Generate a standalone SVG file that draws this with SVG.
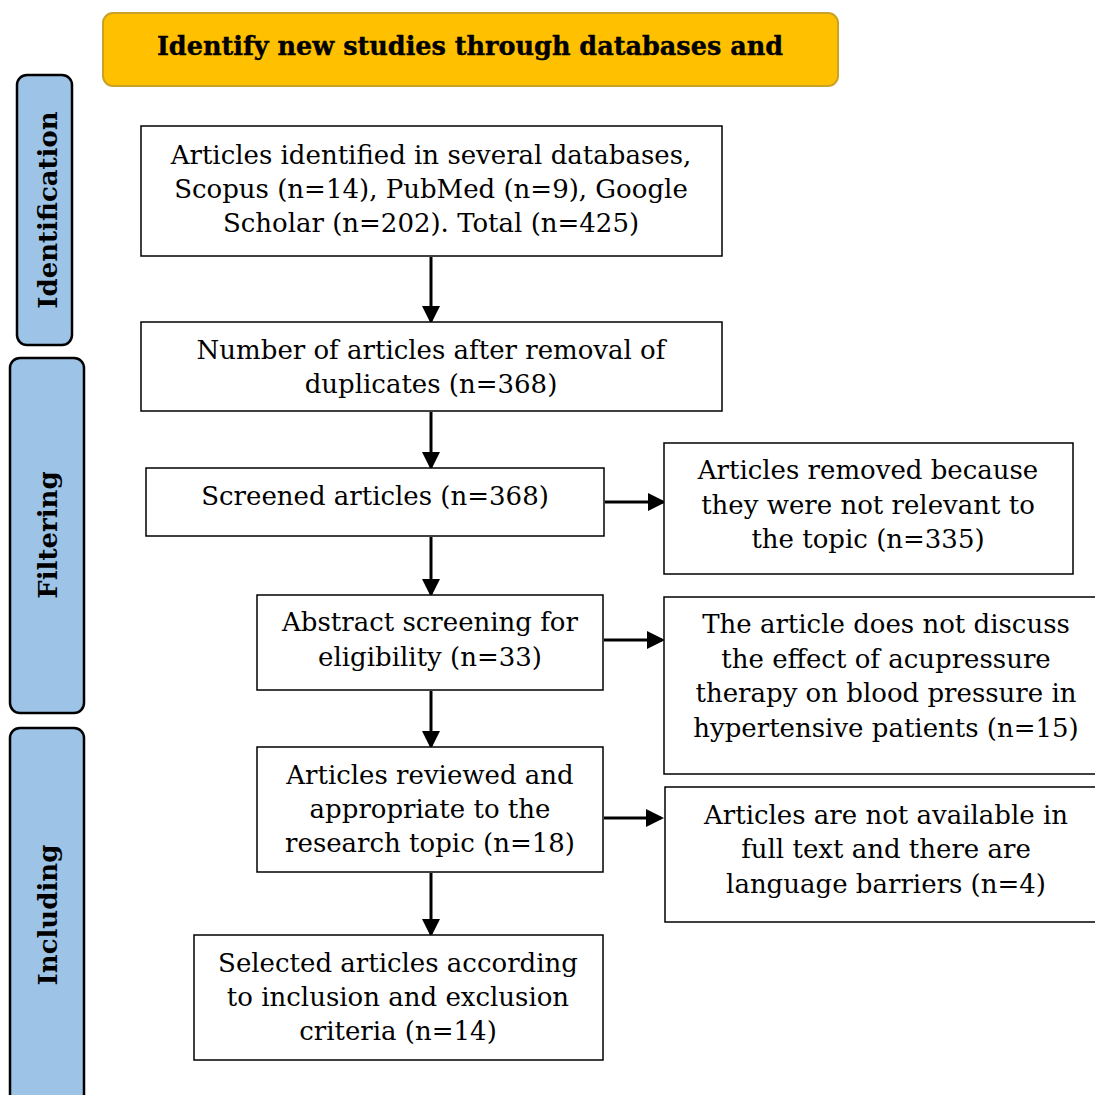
<svg xmlns="http://www.w3.org/2000/svg" width="1095" height="1095" viewBox="0 0 1095 1095">
<style>
.box{fill:#fff;stroke:#000;stroke-width:1.5}
.side{fill:#9DC3E6;stroke:#000;stroke-width:2.5}
.t{font-family:"DejaVu Serif","Liberation Serif",serif;font-size:26px;fill:#000;text-anchor:middle;dominant-baseline:central}
.sl{font-family:"DejaVu Serif","Liberation Serif",serif;font-size:26px;font-weight:bold;fill:#000;text-anchor:middle;dominant-baseline:central}
.hd{font-family:"DejaVu Serif","Liberation Serif",serif;font-size:25.5px;font-weight:bold;fill:#000;text-anchor:middle;dominant-baseline:central;stroke:#000;stroke-width:0.4}
.c{stroke:#000;stroke-width:3;fill:none;marker-end:url(#ah)}
</style>
<defs>
<marker id="ah" markerWidth="6" markerHeight="6" refX="5" refY="3" orient="auto" markerUnits="strokeWidth">
<path d="M0,0 L6,3 L0,6 Z" fill="#000"/>
</marker>
</defs>
<rect width="1095" height="1095" fill="#fff"/>
<g id="header">
<rect x="103" y="13" width="735" height="73" rx="10" fill="#FFC000" stroke="#C9A227" stroke-width="2"/>
<text class="hd" x="470" y="46">Identify new studies through databases and</text>
</g>
<g id="side-identification">
<rect class="side" x="17" y="75" width="55" height="270" rx="10"/>
<text class="sl" transform="translate(48,210) rotate(-90)">Identification</text>
</g>
<g id="side-filtering">
<rect class="side" x="10" y="358" width="74" height="355" rx="10"/>
<text class="sl" transform="translate(48,535) rotate(-90)">Filtering</text>
</g>
<g id="side-including">
<rect class="side" x="10" y="728" width="74" height="380" rx="10"/>
<text class="sl" transform="translate(48,915) rotate(-90)">Including</text>
</g>
<g id="connectors">
<line class="c" x1="431" y1="257" x2="431" y2="321"/>
<line class="c" x1="431" y1="412" x2="431" y2="467"/>
<line class="c" x1="431" y1="537" x2="431" y2="594"/>
<line class="c" x1="431" y1="691" x2="431" y2="746"/>
<line class="c" x1="431" y1="873" x2="431" y2="934"/>
<line class="c" x1="605" y1="502" x2="663" y2="502"/>
<line class="c" x1="604" y1="640" x2="662" y2="640"/>
<line class="c" x1="604" y1="818" x2="661" y2="818"/>
</g>
<g id="n1">
<rect class="box" x="141" y="126" width="581" height="130"/>
<text class="t" x="431" y="155">Articles identified in several databases,</text>
<text class="t" x="431" y="189">Scopus (n=14), PubMed (n=9), Google</text>
<text class="t" x="431" y="223">Scholar (n=202). Total (n=425)</text>
</g>
<g id="n2">
<rect class="box" x="141" y="322" width="581" height="89"/>
<text class="t" x="431" y="350">Number of articles after removal of</text>
<text class="t" x="431" y="384">duplicates (n=368)</text>
</g>
<g id="n3">
<rect class="box" x="146" y="468" width="458" height="68"/>
<text class="t" x="375" y="496">Screened articles (n=368)</text>
</g>
<g id="n4">
<rect class="box" x="257" y="595" width="346" height="95"/>
<text class="t" x="430" y="622">Abstract screening for</text>
<text class="t" x="430" y="657">eligibility (n=33)</text>
</g>
<g id="n5">
<rect class="box" x="257" y="747" width="346" height="125"/>
<text class="t" x="430" y="775">Articles reviewed and</text>
<text class="t" x="430" y="809">appropriate to the</text>
<text class="t" x="430" y="843">research topic (n=18)</text>
</g>
<g id="n6">
<rect class="box" x="194" y="935" width="409" height="125"/>
<text class="t" x="398" y="963">Selected articles according</text>
<text class="t" x="398" y="997">to inclusion and exclusion</text>
<text class="t" x="398" y="1031">criteria (n=14)</text>
</g>
<g id="r1">
<rect class="box" x="664" y="443" width="409" height="131"/>
<text class="t" x="868" y="470">Articles removed because</text>
<text class="t" x="868" y="505">they were not relevant to</text>
<text class="t" x="868" y="539">the topic (n=335)</text>
</g>
<g id="r2">
<rect class="box" x="664" y="597" width="440" height="177"/>
<text class="t" x="886" y="624">The article does not discuss</text>
<text class="t" x="886" y="659">the effect of acupressure</text>
<text class="t" x="886" y="693">therapy on blood pressure in</text>
<text class="t" x="886" y="728">hypertensive patients (n=15)</text>
</g>
<g id="r3">
<rect class="box" x="665" y="787" width="440" height="135"/>
<text class="t" x="886" y="815">Articles are not available in</text>
<text class="t" x="886" y="849">full text and there are</text>
<text class="t" x="886" y="884">language barriers (n=4)</text>
</g>
</svg>
